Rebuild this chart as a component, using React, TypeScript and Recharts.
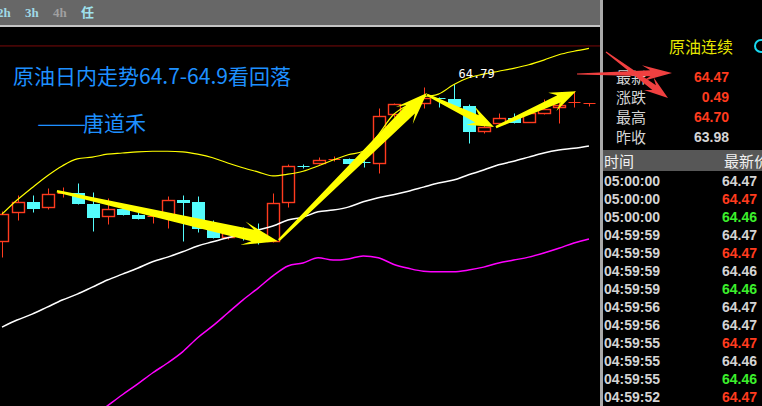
import React from 'react';
import { ComposedChart, Bar, Line, XAxis, YAxis, ReferenceLine, ReferenceDot } from 'recharts';

// candles, oldest first
const opens = [62.12, 62.62, 62.79, 62.7, 62.92, 62.94, 62.75, 62.55, 62.67, 62.57, 62.53, 62.57, 62.82, 62.79, 62.43, 62.19, 62.31, 62.21, 62.12, 62.79, 63.4, 63.45, 63.5, 63.52, 63.47, 63.45, 64.28, 64.44, 64.47, 64.56, 64.54, 64.42, 63.99, 64.13, 64.22, 64.15, 64.3, 64.4, 64.47, 64.46];
const highs = [62.63, 62.91, 62.91, 63.03, 63.04, 63.11, 62.96, 62.86, 62.7, 62.62, 62.57, 62.89, 62.91, 62.89, 62.48, 62.29, 62.36, 62.43, 62.94, 63.43, 63.43, 63.55, 63.57, 63.54, 63.55, 64.39, 64.47, 64.49, 64.74, 64.57, 64.79, 64.45, 64.11, 64.3, 64.3, 64.31, 64.54, 64.49, 64.67, 64.47];
const lows = [61.85, 62.48, 62.62, 62.67, 62.87, 62.75, 62.29, 62.41, 62.57, 62.5, 62.43, 62.35, 62.12, 62.28, 62.18, 62.16, 62.14, 62.07, 62.11, 62.7, 63.37, 63.43, 63.48, 63.43, 63.38, 63.28, 64.23, 64.4, 64.39, 64.4, 64.41, 63.79, 63.96, 64.11, 64.13, 64.14, 64.28, 64.13, 64.4, 64.42];
const closes = [62.58, 62.79, 62.69, 62.92, 62.94, 62.77, 62.53, 62.67, 62.58, 62.52, 62.55, 62.82, 62.79, 62.35, 62.19, 62.26, 62.26, 62.18, 62.77, 63.4, 63.38, 63.5, 63.52, 63.45, 63.45, 64.25, 64.45, 64.45, 64.56, 64.54, 64.42, 63.99, 64.06, 64.22, 64.15, 64.3, 64.37, 64.44, 64.48, 64.47];

// bollinger bands
const upperBand = [62.58, 62.82, 63.03, 63.23, 63.4, 63.52, 63.55, 63.6, 63.62, 63.64, 63.65, 63.65, 63.64, 63.6, 63.54, 63.45, 63.37, 63.3, 63.23, 63.26, 63.31, 63.4, 63.5, 63.59, 63.65, 63.93, 64.27, 64.44, 64.57, 64.62, 64.78, 64.9, 64.96, 65.01, 65.06, 65.12, 65.2, 65.29, 65.35, 65.4];
const midBand = [60.66, 60.78, 60.88, 61.0, 61.12, 61.22, 61.34, 61.46, 61.56, 61.66, 61.77, 61.85, 61.94, 62.04, 62.11, 62.18, 62.24, 62.31, 62.38, 62.48, 62.53, 62.62, 62.65, 62.7, 62.79, 62.86, 62.91, 62.97, 63.04, 63.11, 63.16, 63.25, 63.33, 63.42, 63.48, 63.55, 63.62, 63.67, 63.7, 63.74];
const lowerBand = [58.74, 58.74, 58.74, 58.77, 58.84, 58.93, 59.13, 59.32, 59.51, 59.69, 59.88, 60.05, 60.24, 60.48, 60.68, 60.9, 61.12, 61.32, 61.53, 61.7, 61.75, 61.84, 61.8, 61.82, 61.87, 61.84, 61.73, 61.66, 61.61, 61.6, 61.6, 61.63, 61.68, 61.75, 61.8, 61.85, 61.92, 62.0, 62.09, 62.16];

// trend arrows drawn over the candles: [fromIndex, fromPrice, toIndex, toPrice]
const trendArrows = [
  [3.65, 62.97, 18.34, 62.12],
  [18.4, 62.14, 28.24, 64.64],
  [28.24, 64.61, 32.69, 64.06],
  [32.82, 64.06, 38.14, 64.67],
];

const highLabel = { index: 30, price: 64.79 };

const quoteLabels = ['最新', '涨跌', '最高', '昨收'];
const quoteValues = ['64.47', '0.49', '64.70', '63.98'];
const quoteDirs = ['up', 'up', 'up', 'flat'];

const tickTimes = ['05:00:00', '05:00:00', '05:00:00', '04:59:59', '04:59:59', '04:59:59', '04:59:59', '04:59:56', '04:59:56', '04:59:55', '04:59:55', '04:59:55', '04:59:52'];
const tickPrices = ['64.47', '64.47', '64.46', '64.47', '64.47', '64.46', '64.46', '64.47', '64.47', '64.47', '64.46', '64.46', '64.47'];
const tickDirs = ['flat', 'up', 'down', 'flat', 'up', 'flat', 'down', 'flat', 'flat', 'up', 'flat', 'down', 'up'];

const RED = '#ff3b1e';
const CYAN = '#54fcfc';
const GREEN = '#3cf02c';
const GRAY = '#d4d4d4';
const dirColor: Record<string, string> = { up: RED, down: GREEN, flat: GRAY };

const rows = opens.map((open, i) => ({
  i,
  open,
  high: highs[i],
  low: lows[i],
  close: closes[i],
  upper: upperBand[i],
  mid: midBand[i],
  lower: lowerBand[i],
}));

function Candle(props: any) {
  const { x, y, width, height, payload } = props;
  if (x == null || y == null) return null;
  const { open, close, high, low } = payload;
  const up = close >= open;
  const color = up ? RED : CYAN;
  const k = height / (high - low);
  const py = (v: number) => y + (high - v) * k;
  const cx = Math.round(x + width / 2) + 0.5;
  const left = Math.round(x) + 0.5;
  const w = Math.round(width);
  const top = Math.round(py(Math.max(open, close))) + 0.5;
  const bot = Math.round(py(Math.min(open, close))) + 0.5;
  const hi = Math.round(py(high)) + 0.5;
  const lo = Math.round(py(low)) + 0.5;

  if (bot - top < 1.5) {
    return (
      <g>
        <line x1={cx} x2={cx} y1={hi} y2={lo} stroke={color} />
        <line x1={left} x2={left + w} y1={top} y2={top} stroke={color} />
      </g>
    );
  }
  if (up) {
    return (
      <g>
        <line x1={cx} x2={cx} y1={hi} y2={top} stroke={color} />
        <line x1={cx} x2={cx} y1={bot} y2={lo} stroke={color} />
        <rect x={left} y={top} width={w} height={bot - top} fill="#000" stroke={color} strokeWidth={1.4} />
      </g>
    );
  }
  return (
    <g>
      <line x1={cx} x2={cx} y1={hi} y2={lo} stroke={color} />
      <rect x={left - 0.5} y={top - 0.5} width={w + 1} height={bot - top + 1} fill={color} />
    </g>
  );
}

// tapered arrow: thin tail, wide shaft near the head, swept head
function arrowPoints(x1: number, y1: number, x2: number, y2: number, tail: number, neck: number, head: number, headLen: number) {
  const dx = x2 - x1;
  const dy = y2 - y1;
  const len = Math.hypot(dx, dy) || 1;
  const ux = dx / len;
  const uy = dy / len;
  const nx = -uy;
  const ny = ux;
  const bx = x2 - ux * headLen;
  const by = y2 - uy * headLen;
  const kx = x2 - ux * headLen * 0.72;
  const ky = y2 - uy * headLen * 0.72;
  const pts = [
    [x1 + nx * tail, y1 + ny * tail],
    [kx + nx * neck, ky + ny * neck],
    [bx + nx * head, by + ny * head],
    [x2, y2],
    [bx - nx * head, by - ny * head],
    [kx - nx * neck, ky - ny * neck],
    [x1 - nx * tail, y1 - ny * tail],
  ];
  return pts.map((p) => p.join(',')).join(' ');
}

const yellowArrow = (neck: number, head: number, headLen: number) => (p: any) => (
  <polygon points={arrowPoints(p.x1, p.y1, p.x2, p.y2, 1.2, neck, head, headLen)} fill="#ffff00" />
);

const arrowSizes = [
  [6, 12, 36],
  [6, 12, 32],
  [4, 10, 26],
  [4, 10, 26],
];

export default function App() {
  const cjk = '"Noto Sans CJK SC", "Noto Sans", sans-serif';
  const num = '"Liberation Sans", Arial, sans-serif';
  return (
    <div style={{ position: 'absolute', left: 0, top: 0, width: 762, height: 406, background: '#000', overflow: 'hidden' }}>
      {/* period toolbar */}
      <div style={{ position: 'absolute', left: 0, top: 0, width: 600, height: 25, background: '#676767' }} />
      <div style={{ position: 'absolute', left: 0, top: 25, width: 600, height: 2, background: '#c4c4c4' }} />
      {[
        ['2h', -3, '#9fd9e6'],
        ['3h', 25, '#9fd9e6'],
        ['4h', 53, '#a0a0a0'],
        ['任', 81, '#9fe2ee'],
      ].map(([t, x, c]) => (
        <div
          key={t as string}
          style={{ position: 'absolute', left: x as number, top: 5, fontFamily: '"Liberation Serif", "Noto Sans CJK SC", serif', fontSize: 13, fontWeight: 'bold', lineHeight: '16px', color: c as string }}
        >
          {t}
        </div>
      ))}

      <div style={{ position: 'absolute', left: 0, top: 28 }}>
        <ComposedChart width={600} height={378} data={rows} margin={{ top: 0, right: 0, bottom: 0, left: 0 }}>
          <XAxis dataKey="i" type="number" domain={[-0.133, 39.734]} allowDataOverflow hide />
          <YAxis type="number" domain={[59.319, 65.745]} allowDataOverflow hide />
          <ReferenceLine y={65.44} stroke="#7c0a0a" strokeWidth={1} />
          <Line dataKey="lower" type="monotone" stroke="#ff00ff" strokeWidth={1.5} dot={false} isAnimationActive={false} />
          <Line dataKey="mid" type="monotone" stroke="#ffffff" strokeWidth={1.5} dot={false} isAnimationActive={false} />
          <Line dataKey="upper" type="monotone" stroke="#ffff00" strokeWidth={1.2} dot={false} isAnimationActive={false} />
          <Bar dataKey={(d: any) => [d.low, d.high]} barSize={12} shape={Candle} isAnimationActive={false} />
          <ReferenceDot
            x={highLabel.index}
            y={highLabel.price}
            r={1}
            fill="none"
            stroke="none"
            label={(p: any) => (
              <text x={p.viewBox.x + 6} y={p.viewBox.y - 5} fill="#ffffff" fontSize={12} fontFamily='"DejaVu Sans Mono", monospace'>
                {highLabel.price.toFixed(2)}
              </text>
            )}
          />
          {trendArrows.map((a, k) => (
            <ReferenceLine
              key={k}
              segment={[{ x: a[0], y: a[1] }, { x: a[2], y: a[3] }]}
              stroke="#ffff00"
              ifOverflow="visible"
              shape={yellowArrow(arrowSizes[k][0], arrowSizes[k][1], arrowSizes[k][2])}
            />
          ))}
        </ComposedChart>
      </div>

      {/* headline */}
      <div style={{ position: 'absolute', left: 13, top: 61, fontFamily: cjk, fontSize: 21, lineHeight: '28px', color: '#1e90ff', whiteSpace: 'nowrap' }}>
        原油日内走势64.7-64.9看回落
      </div>
      <div style={{ position: 'absolute', left: 37, top: 108, fontFamily: cjk, fontSize: 21, lineHeight: '28px', color: '#1e90ff', whiteSpace: 'nowrap' }}>
        <span style={{ display: 'inline-block', width: 46, overflow: 'visible' }}>
          <span style={{ display: 'inline-block', transform: 'scaleX(1.4)', transformOrigin: 'left center' }}>——</span>
        </span>
        唐道禾
      </div>

      {/* quote panel */}
      <div style={{ position: 'absolute', left: 600, top: 0, width: 3, height: 406, background: '#a9a9a9' }} />
      <div style={{ position: 'absolute', left: 669, top: 36, fontFamily: cjk, fontSize: 16, lineHeight: '20px', color: '#e6e600' }}>原油连续</div>
      <svg style={{ position: 'absolute', left: 748, top: 36 }} width={14} height={20}>
        <circle cx={13} cy={10} r={6} fill="none" stroke="#18d8f0" strokeWidth={2} />
      </svg>
      {quoteLabels.map((l, k) => (
        <React.Fragment key={l}>
          <div style={{ position: 'absolute', left: 616, top: 67 + k * 20, fontFamily: cjk, fontSize: 15, lineHeight: '20px', color: GRAY }}>{l}</div>
          <div style={{ position: 'absolute', right: 762 - 729, top: 67 + k * 20, fontFamily: num, fontSize: 14, fontWeight: 'bold', lineHeight: '20px', color: dirColor[quoteDirs[k]] }}>
            {quoteValues[k]}
          </div>
        </React.Fragment>
      ))}

      <div style={{ position: 'absolute', left: 603, top: 150, width: 159, height: 21, background: '#575757' }} />
      <div style={{ position: 'absolute', left: 604, top: 150, fontFamily: cjk, fontSize: 15, lineHeight: '21px', color: '#f0f0f0' }}>时间</div>
      <div style={{ position: 'absolute', left: 724, top: 150, fontFamily: cjk, fontSize: 15, lineHeight: '21px', color: '#f0f0f0', whiteSpace: 'nowrap' }}>最新价</div>

      {tickTimes.map((t, k) => (
        <React.Fragment key={k}>
          <div style={{ position: 'absolute', left: 604, top: 172 + k * 18, fontFamily: num, fontSize: 14, fontWeight: 'bold', lineHeight: '18px', color: GRAY }}>{t}</div>
          <div style={{ position: 'absolute', right: 762 - 757, top: 172 + k * 18, fontFamily: num, fontSize: 14, fontWeight: 'bold', lineHeight: '18px', color: dirColor[tickDirs[k]] }}>
            {tickPrices[k]}
          </div>
        </React.Fragment>
      ))}

      {/* red pointers at the quote */}
      <svg style={{ position: 'absolute', left: 0, top: 0, pointerEvents: 'none' }} width={762} height={406}>
        <polygon points={arrowPoints(577, 74, 672, 73, 0.6, 3, 8, 30)} fill="#f04040" />
        <polygon points={arrowPoints(606, 52, 668, 98, 0.6, 3, 8, 24)} fill="#f04040" />
      </svg>
    </div>
  );
}
